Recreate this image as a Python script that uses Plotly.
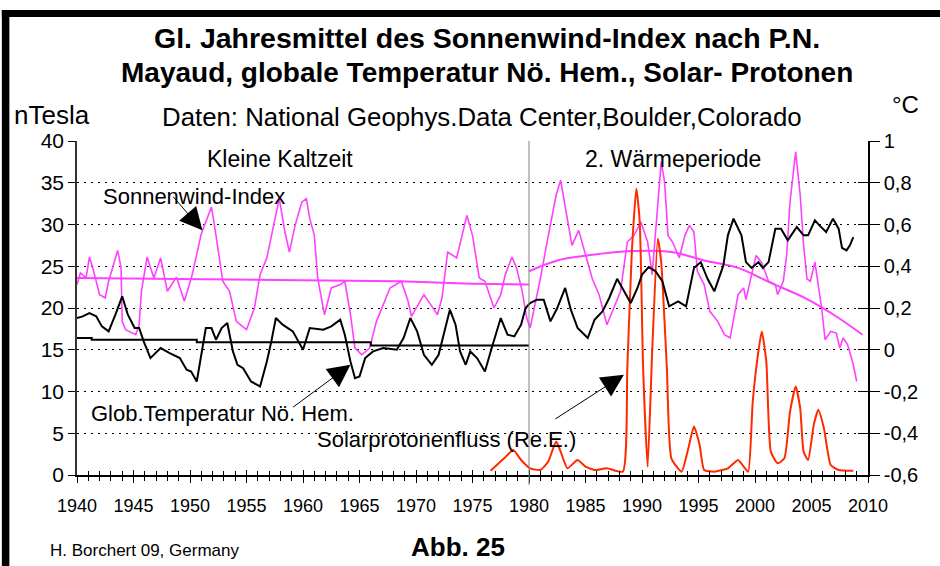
import plotly.graph_objects as go

# ---- Sonnenwind-Index nach Mayaud (nTesla), gleitendes Jahresmittel
sw_jahr = [1940.0, 1940.3, 1940.8, 1941.1, 1941.4, 1942.0, 1942.5, 1942.8, 1943.6, 1943.9,
           1944.0, 1944.3, 1945.2, 1945.5, 1945.7, 1946.2, 1946.8, 1947.4, 1948.0, 1948.8,
           1949.5, 1950.2, 1951.0, 1951.9, 1952.3, 1952.9, 1953.5, 1954.1, 1955.0, 1955.7,
           1956.2, 1956.8, 1957.4, 1957.9, 1958.4, 1958.8, 1959.3, 1959.9, 1960.3, 1960.6,
           1961.0, 1961.3, 1961.9, 1962.5, 1963.3, 1963.7, 1964.2, 1964.6, 1965.2, 1965.9,
           1966.5, 1967.1, 1967.7, 1968.7, 1969.3, 1969.6, 1970.2, 1970.7, 1971.3, 1971.9,
           1972.3, 1972.8, 1973.6, 1974.5, 1975.0, 1975.6, 1976.1, 1976.9, 1977.5, 1977.9,
           1978.5, 1978.9, 1979.4, 1979.8, 1980.1, 1980.6, 1981.0, 1981.6, 1982.4, 1982.8,
           1983.4, 1983.8, 1984.4, 1985.0, 1985.6, 1986.2, 1986.9, 1987.5, 1988.1, 1988.7,
           1989.3, 1989.9, 1990.5, 1990.9, 1991.4, 1991.7, 1992.0, 1992.3, 1992.7, 1993.3,
           1993.8, 1994.2, 1994.6, 1994.9, 1995.5, 1996.0, 1996.7, 1997.3, 1997.8, 1998.1,
           1998.5, 1999.0, 1999.2, 1999.7, 2000.1, 2000.6, 2001.2, 2001.8, 2002.0, 2002.5,
           2002.8, 2003.1, 2003.6, 2004.0, 2004.3, 2004.6, 2004.9, 2005.3, 2005.6, 2005.9,
           2006.2, 2006.7, 2007.2, 2007.5, 2007.8, 2008.2, 2008.7, 2009.0]
sw_wert = [22.8, 24.2, 23.6, 26.1, 24.8, 21.6, 21.2, 23.2, 26.9, 24.8,
           18.4, 17.4, 16.8, 18.0, 22.0, 26.1, 23.6, 26.0, 22.0, 23.7,
           20.8, 24.0, 28.9, 32.1, 28.7, 23.2, 22.0, 18.4, 17.4, 20.0,
           24.0, 26.0, 29.9, 33.1, 29.1, 26.7, 29.9, 32.7, 33.1, 30.7,
           28.7, 23.6, 19.2, 22.4, 22.8, 23.2, 19.2, 15.2, 14.4, 15.2,
           18.4, 20.4, 22.4, 23.2, 20.8, 19.0, 20.4, 21.6, 20.4, 19.2,
           21.2, 26.7, 26.0, 31.1, 28.7, 23.6, 23.2, 20.0, 21.6, 24.0,
           26.1, 24.8, 22.0, 18.8, 17.6, 20.8, 23.5, 27.9, 33.5, 35.3,
           30.7, 27.5, 29.3, 26.3, 23.5, 21.6, 18.0, 20.0, 22.0, 27.9,
           28.7, 30.3, 27.9, 24.0, 32.7, 37.5, 35.1, 28.7, 27.9, 26.0,
           28.7, 29.9, 29.1, 24.4, 22.8, 19.6, 18.4, 16.8, 16.4, 18.8,
           21.6, 22.4, 21.0, 24.0, 26.3, 25.4, 23.2, 22.8, 21.6, 23.2,
           26.3, 32.7, 38.7, 33.5, 27.5, 23.5, 23.2, 25.5, 22.8, 20.0,
           16.2, 17.2, 17.0, 15.2, 16.4, 15.6, 13.2, 11.2]

# Trend Sonnenwind-Index
sw_trend1_jahr = [1940, 1958, 1968.5, 1975, 1980]
sw_trend1_wert = [23.6, 23.4, 23.2, 22.9, 22.8]
sw_trend2_jahr = [1980.0, 1982.5, 1985.2, 1988.7, 1992.6, 1995.5, 1998.5, 2001.4, 2004.4, 2007.4, 2009.5]
sw_trend2_wert = [24.4, 25.7, 26.3, 26.8, 26.7, 25.7, 24.8, 23.0, 21.2, 18.8, 16.8]

# ---- Globale Temperatur Nordhalbkugel (°C)
temp_jahr = [1940.0, 1940.5, 1941.1, 1941.7, 1942.2, 1942.8, 1943.4, 1944.0, 1944.5, 1945.1,
             1945.5, 1945.9, 1946.5, 1947.4, 1948.2, 1949.1, 1949.7, 1950.1, 1950.6, 1951.0,
             1951.4, 1951.9, 1952.3, 1952.8, 1953.3, 1953.8, 1954.2, 1954.7, 1955.4, 1956.2,
             1956.8, 1957.2, 1957.6, 1958.2, 1959.1, 1960.0, 1960.6, 1961.8, 1962.5, 1963.3,
             1963.7, 1964.2, 1964.6, 1965.0, 1965.5, 1966.2, 1967.1, 1968.3, 1968.9, 1969.5,
             1970.1, 1970.7, 1971.4, 1972.0, 1972.5, 1973.0, 1973.5, 1973.9, 1974.4, 1974.8,
             1975.4, 1976.1, 1976.7, 1977.5, 1978.1, 1978.7, 1979.3, 1979.7, 1980.1, 1980.7,
             1981.3, 1981.9, 1982.5, 1983.2, 1983.7, 1984.3, 1985.2, 1985.8, 1986.5, 1987.1,
             1987.8, 1988.4, 1989.0, 1989.6, 1990.0, 1990.6, 1991.2, 1991.8, 1992.4, 1993.2,
             1993.9, 1994.6, 1995.2, 1995.8, 1996.4, 1997.2, 1997.6, 1998.1, 1998.8, 1999.2,
             1999.7, 2000.3, 2000.7, 2001.2, 2001.8, 2002.3, 2002.9, 2003.7, 2004.3, 2004.7,
             2005.3, 2005.7, 2006.3, 2006.9, 2007.4, 2007.7, 2008.1, 2008.4, 2008.7]
temp_wert = [0.152, 0.160, 0.176, 0.160, 0.112, 0.088, 0.168, 0.256, 0.168, 0.104,
             0.104, 0.040, -0.040, 0.008, -0.016, -0.040, -0.096, -0.104, -0.152, -0.024,
             0.104, 0.104, 0.048, 0.104, 0.128, -0.008, -0.072, -0.088, -0.152, -0.176,
             -0.056, 0.040, 0.152, 0.120, 0.088, 0.000, 0.104, 0.096, 0.112, 0.144,
             0.072, -0.056, -0.136, -0.128, -0.040, -0.008, 0.008, 0.000, 0.056, 0.152,
             0.088, -0.024, -0.072, -0.024, 0.088, 0.192, 0.120, -0.008, -0.072, -0.008,
             -0.040, -0.104, 0.008, 0.152, 0.072, 0.064, 0.120, 0.200, 0.224, 0.240,
             0.240, 0.136, 0.200, 0.296, 0.192, 0.104, 0.056, 0.144, 0.184, 0.248,
             0.340, 0.280, 0.224, 0.296, 0.360, 0.396, 0.376, 0.328, 0.208, 0.232,
             0.208, 0.392, 0.420, 0.340, 0.280, 0.404, 0.548, 0.628, 0.548, 0.420,
             0.392, 0.420, 0.392, 0.420, 0.580, 0.580, 0.524, 0.588, 0.548, 0.548,
             0.620, 0.596, 0.564, 0.628, 0.580, 0.488, 0.476, 0.500, 0.540]

# Trend Temperatur 1940-1980
temp_trend_jahr = [1940, 1941.3, 1950.6, 1966, 1980]
temp_trend_wert = [0.056, 0.048, 0.036, 0.020, 0.020]

# ---- Solarprotonenfluss (relative Einheiten, linke Achse)
sp_jahr = [1976.6, 1977.8, 1978.6, 1979.3, 1980.1, 1981.0, 1981.7, 1982.4, 1982.8, 1983.4,
           1984.3, 1985.0, 1985.8, 1986.9, 1988.3, 1988.7, 1989.1, 1989.5, 1989.8, 1990.1,
           1990.5, 1990.9, 1991.4, 1991.7, 1992.2, 1992.6, 1993.5, 1994.1, 1994.6, 1995.1,
           1995.5, 1996.4, 1997.6, 1998.5, 1999.0, 1999.4, 1999.8, 2000.3, 2000.6, 2001.0,
           2001.4, 2002.0, 2002.6, 2003.1, 2003.6, 2004.0, 2004.3, 2004.7, 2005.2, 2005.6,
           2006.1, 2006.7, 2007.4, 2008.7]
sp_wert = [0.5, 2.0, 3.0, 1.8, 0.8, 0.6, 1.6, 4.0, 2.8, 0.8,
           1.8, 1.0, 0.6, 0.8, 0.4, 12.8, 26.7, 34.3, 30.3, 12.8,
           1.0, 14.8, 28.3, 25.5, 12.8, 2.0, 0.4, 3.2, 5.8, 3.6,
           0.6, 0.4, 0.8, 1.8, 1.0, 0.4, 8.8, 14.8, 17.2, 13.6,
           2.8, 1.4, 2.0, 7.6, 10.6, 8.0, 2.8, 1.8, 6.0, 7.8,
           5.6, 1.2, 0.6, 0.5]

temp_ticks = [-0.6, -0.4, -0.2, 0, 0.2, 0.4, 0.6, 0.8, 1]
temp_ticktext = ['-0,6', '-0,4', '-0,2', '0', '0,2', '0,4', '0,6', '0,8', '1']

MAGENTA = '#FF40FF'
RED = '#FF2A00'
FONT = 'Arial, Liberation Sans, sans-serif'

fig = go.Figure()

fig.add_trace(go.Scatter(x=sw_jahr, y=sw_wert, mode='lines',
                         line=dict(color=MAGENTA, width=1.6)))
fig.add_trace(go.Scatter(x=sw_trend1_jahr, y=sw_trend1_wert, mode='lines',
                         line=dict(color=MAGENTA, width=2)))
fig.add_trace(go.Scatter(x=sw_trend2_jahr, y=sw_trend2_wert, mode='lines',
                         line=dict(color=MAGENTA, width=2, shape='spline')))
fig.add_trace(go.Scatter(x=temp_jahr, y=temp_wert, mode='lines', yaxis='y2',
                         line=dict(color='black', width=2)))
fig.add_trace(go.Scatter(x=temp_trend_jahr, y=temp_trend_wert, mode='lines', yaxis='y2',
                         line=dict(color='black', width=2, shape='hv')))
fig.add_trace(go.Scatter(x=sp_jahr, y=sp_wert, mode='lines',
                         line=dict(color=RED, width=2, shape='spline', smoothing=0.5)))
# empty traces only to activate the overlay axes (crossing ticks)
fig.add_trace(go.Scatter(x=[], y=[], xaxis='x2', hoverinfo='skip'))
fig.add_trace(go.Scatter(x=[], y=[], yaxis='y3', hoverinfo='skip'))

fig.update_layout(
    width=940, height=566,
    margin=dict(l=77, r=72, t=141, b=91),
    paper_bgcolor='white', plot_bgcolor='white',
    showlegend=False,
    font=dict(family=FONT, color='black'),
    xaxis=dict(range=[1940, 2010], dtick=5, tick0=1940, showgrid=False, zeroline=False,
               showline=True, linecolor='black', linewidth=1.5,
               ticks='outside', ticklen=6, tickwidth=1, tickcolor='black',
               minor=dict(dtick=1, ticks='outside', ticklen=4, tickcolor='black'),
               tickfont=dict(size=18), ticklabelstandoff=8),
    xaxis2=dict(range=[1940, 2010], overlaying='x', anchor='y', side='bottom',
                showticklabels=False, showgrid=False, zeroline=False,
                ticks='inside', dtick=5, tick0=1940, ticklen=5, tickcolor='black',
                minor=dict(dtick=1, ticks='inside', ticklen=4, tickcolor='black')),
    yaxis=dict(range=[0, 40], dtick=5, showgrid=True, gridcolor='black', gridwidth=1,
               griddash='2px,5px', zeroline=False, showline=True, linecolor='#333',
               linewidth=1.5, ticks='outside', ticklen=7, tickcolor='black',
               tickfont=dict(size=21)),
    yaxis2=dict(range=[-0.6, 1], overlaying='y', side='right', anchor='x',
                tickvals=temp_ticks, ticktext=temp_ticktext, showgrid=False,
                zeroline=False, showline=True, linecolor='black', linewidth=1.5,
                ticks='outside', ticklen=10, tickcolor='black', tickfont=dict(size=20)),
    yaxis3=dict(range=[-0.6, 1], overlaying='y', side='right', anchor='x',
                tickvals=temp_ticks, showticklabels=False, showgrid=False,
                zeroline=False, ticks='inside', ticklen=10, tickcolor='black'),
)

# 1980 divider
fig.add_shape(type='line', xref='x', yref='paper', x0=1980, x1=1980, y0=-0.03, y1=1,
              line=dict(color='#808080', width=1))
# frame pieces (top and left)
fig.add_shape(type='rect', xref='paper', yref='paper', x0=-0.095, x1=1.1,
              y0=1.371, y1=1.392, line=dict(width=0), fillcolor='black')
fig.add_shape(type='rect', xref='paper', yref='paper', x0=-0.095, x1=-0.0855,
              y0=-0.3, y1=1.392, line=dict(width=0), fillcolor='black')

def txt(x, y, text, size, xanchor='left', xref='paper', yref='paper', bold=False):
    fig.add_annotation(x=x, y=y, xref=xref, yref=yref, text=f'<b>{text}</b>' if bold else text,
                       showarrow=False, xanchor=xanchor, yanchor='middle',
                       font=dict(size=size, family=FONT, color='black'))

txt(0.5183, 1.3084, 'Gl. Jahresmittel des Sonnenwind-Index nach P.N.', 28.5, 'center', bold=True)
txt(0.5183, 1.2036, 'Mayaud, globale Temperatur Nö. Hem., Solar- Protonen', 28, 'center', bold=True)
txt(-0.0822, 1.0779, 'nTesla', 26)
txt(0.1049, 1.0719, 'Daten: National Geophys.Data Center,Boulder,Colorado', 25.8)
txt(1.0468, 1.1078, '°C', 24, 'center')
txt(-0.0367, -0.2275, 'H. Borchert 09, Germany', 17)
txt(0.4817, -0.2156, 'Abb. 25', 26, 'center', bold=True)

txt(1951.3, 37.9, 'Kleine Kaltzeit', 23, xref='x', yref='y')
txt(1984.8, 37.9, '2. Wärmeperiode', 23, xref='x', yref='y')
txt(1942.1, 33.4, 'Sonnenwind-Index', 22, xref='x', yref='y')
txt(1941.1, 7.4, 'Glob.Temperatur Nö. Hem.', 22, xref='x', yref='y')
txt(1961.1, 4.3, 'Solarprotonenfluss (Re.E.)', 22, xref='x', yref='y')

# arrows: tip (x, y), tail (ax, ay)
for x, y, ax, ay in [(1951.1, 29.3, 1948.4, 33.5),
                     (1964.2, 13.2, 1959.0, 8.0),
                     (1988.4, 12.0, 1982.2, 6.6)]:
    fig.add_annotation(x=x, y=y, ax=ax, ay=ay, xref='x', yref='y', axref='x', ayref='y',
                       text='', showarrow=True, arrowhead=2, arrowsize=4.5,
                       arrowwidth=1, arrowcolor='black')

# page body has a default 8px margin; drop it so the figure sits at the window corner
fig.write_html('out.html', config={'displayModeBar': False},
               post_script="document.body.style.margin='0';")
